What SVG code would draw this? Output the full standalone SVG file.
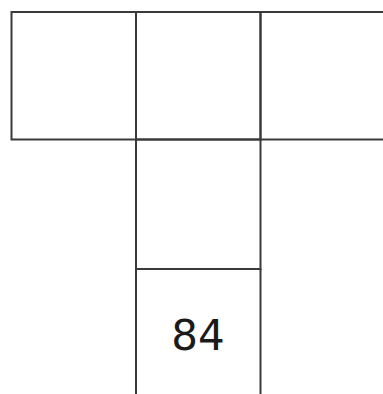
<svg xmlns="http://www.w3.org/2000/svg" width="383" height="394" viewBox="0 0 383 394">
<style>
.c{fill:none;stroke:#3a3a3a;stroke-width:2}
.t{font-family:"DejaVu Sans",sans-serif;font-size:42px;fill:#1a1a1a;text-anchor:middle}
</style>
<rect width="383" height="394" fill="#fff"/>
<g id="cell-top-left"><rect class="c" x="11.5" y="12" width="124.5" height="127.5"/></g>
<g id="cell-top-middle"><rect class="c" x="136" y="12" width="124.5" height="127.5"/></g>
<g id="cell-top-right"><rect class="c" x="260.5" y="12" width="124.5" height="127.5"/></g>
<g id="cell-middle"><rect class="c" x="136" y="139.5" width="124.5" height="129.5"/></g>
<g id="cell-bottom"><path class="c" d="M136 269V394M260.5 269V394"/><text class="t" x="198" y="350">84</text></g>
</svg>
